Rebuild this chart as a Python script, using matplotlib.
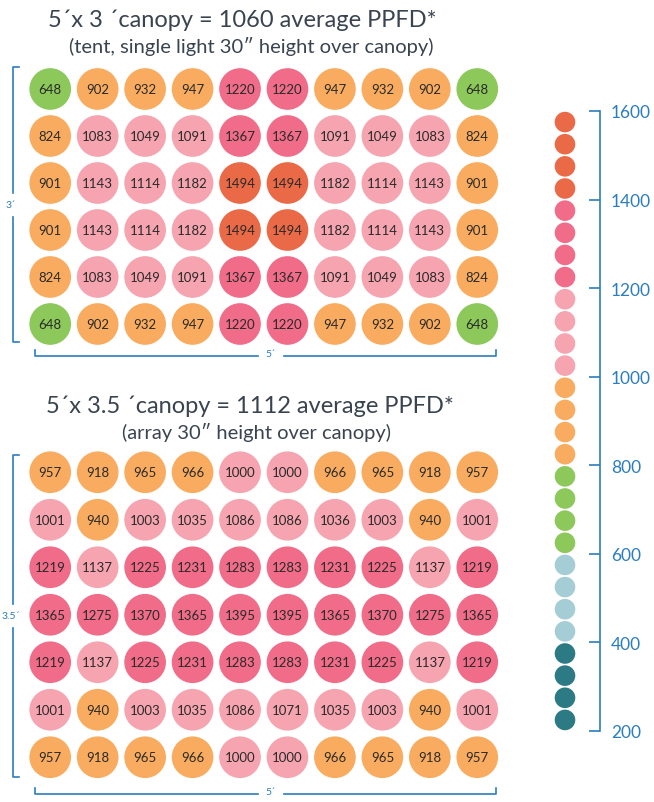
"""PPFD grid maps for two canopy layouts with a colour scale."""

import matplotlib

matplotlib.use("Agg")
import matplotlib.pyplot as plt
import numpy as np

plt.rcParams["font.family"] = ["Lato", "DejaVu Sans"]

# top map: 5' x 3' tent, single light
tent_ppfd = [
    [648, 902, 932, 947, 1220, 1220, 947, 932, 902, 648],
    [824, 1083, 1049, 1091, 1367, 1367, 1091, 1049, 1083, 824],
    [901, 1143, 1114, 1182, 1494, 1494, 1182, 1114, 1143, 901],
    [901, 1143, 1114, 1182, 1494, 1494, 1182, 1114, 1143, 901],
    [824, 1083, 1049, 1091, 1367, 1367, 1091, 1049, 1083, 824],
    [648, 902, 932, 947, 1220, 1220, 947, 932, 902, 648],
]

# bottom map: 5' x 3.5' array
array_ppfd = [
    [957, 918, 965, 966, 1000, 1000, 966, 965, 918, 957],
    [1001, 940, 1003, 1035, 1086, 1086, 1036, 1003, 940, 1001],
    [1219, 1137, 1225, 1231, 1283, 1283, 1231, 1225, 1137, 1219],
    [1365, 1275, 1370, 1365, 1395, 1395, 1365, 1370, 1275, 1365],
    [1219, 1137, 1225, 1231, 1283, 1283, 1231, 1225, 1137, 1219],
    [1001, 940, 1003, 1035, 1086, 1071, 1035, 1003, 940, 1001],
    [957, 918, 965, 966, 1000, 1000, 966, 965, 918, 957],
]

tent_title = "5\u00b4x 3 \u00b4canopy = 1060 average PPFD*"
tent_subtitle = "(tent, single light 30\u2033 height over canopy)"
array_title = "5\u00b4x 3.5 \u00b4canopy = 1112 average PPFD*"
array_subtitle = "(array 30\u2033 height over canopy)"

scale_edges = [200, 400, 600, 800, 1000, 1200, 1400, 1600]
scale_colors = ["#2b7a84", "#a4cdd6", "#8cc85a", "#f9ac5f", "#f6a4b0", "#f06c89", "#ea6a48"]
legend_values = list(range(225, 1600, 50))

BLUE = "#2c7dbf"
DARK = "#3a4350"
W, H = 654, 803


def color_for(value):
    idx = np.searchsorted(scale_edges, value, side="right") - 1
    return scale_colors[min(max(idx, 0), len(scale_colors) - 1)]


def fig_rect(x0, y0, x1, y1):
    return [x0 / W, 1 - y1 / H, (x1 - x0) / W, (y1 - y0) / H]


def draw_grid(ax, grid):
    data = np.array(grid)
    rows, cols = data.shape
    yy, xx = np.mgrid[0:rows, 0:cols]
    colors = [color_for(v) for v in data.ravel()]
    ax.scatter(xx.ravel(), yy.ravel(), s=900, c=colors, linewidths=0)
    for r in range(rows):
        for c in range(cols):
            ax.text(c, r, str(data[r, c]), ha="center", va="center",
                    fontsize=9.5, color="#2a2a2a")
    ax.set_xlim(-0.5, cols - 0.5)
    ax.set_ylim(rows - 0.5, -0.5)
    ax.axis("off")


fig = plt.figure(figsize=(W / 100, H / 100), dpi=100)

ax_top = fig.add_axes(fig_rect(26.5, 66.5, 501, 348.5))
draw_grid(ax_top, tent_ppfd)

ax_bot = fig.add_axes(fig_rect(26.5, 449.5, 501, 782))
draw_grid(ax_bot, array_ppfd)

# colour scale
ax_leg = fig.add_axes(fig_rect(545, 112, 600, 732))
ax_leg.scatter([20] * len(legend_values), legend_values, s=220,
               c=[color_for(v) for v in legend_values], linewidths=0, clip_on=False)
ax_leg.set_xlim(0, 55)
ax_leg.set_ylim(scale_edges[0], scale_edges[-1])
ax_leg.set_yticks(scale_edges)
ax_leg.yaxis.tick_right()
ax_leg.tick_params(axis="y", direction="in", length=8, width=1.2, color=BLUE,
                   labelcolor=BLUE, labelsize=12.5, pad=8)
ax_leg.set_xticks([])
for side in ["top", "bottom", "left"]:
    ax_leg.spines[side].set_visible(False)
ax_leg.spines["right"].set_color(BLUE)
ax_leg.spines["right"].set_linewidth(1.2)
ax_leg.patch.set_alpha(0)

# overlay for titles and dimension brackets
ov = fig.add_axes([0, 0, 1, 1], zorder=-1)
ov.set_xlim(0, W)
ov.set_ylim(H, 0)
ov.axis("off")

ov.text(242, 20, tent_title, ha="center", va="center", fontsize=17, color=DARK)
ov.text(251, 46, tent_subtitle, ha="center", va="center", fontsize=14.5, color=DARK)
ov.text(250, 406, array_title, ha="center", va="center", fontsize=17, color=DARK)
ov.text(257, 433, array_subtitle, ha="center", va="center", fontsize=14.5, color=DARK)


def v_bracket(x, y0, y1, label):
    mid = (y0 + y1) / 2
    kw = dict(color=BLUE, lw=1.2)
    ov.plot([x + 6, x, x], [y0, y0, mid - 12], **kw)
    ov.plot([x, x, x + 6], [mid + 12, y1, y1], **kw)
    ov.text(x - 2, mid, label, ha="center", va="center", fontsize=7.5, color=BLUE)


def h_bracket(y, x0, x1, label):
    mid = (x0 + x1) / 2 + 5
    kw = dict(color=BLUE, lw=1.2)
    ov.plot([x0, x0, mid - 13], [y - 6, y, y], **kw)
    ov.plot([mid + 13, x1, x1], [y, y, y - 6], **kw)
    ov.text(mid, y - 2, label, ha="center", va="center", fontsize=7.5, color=BLUE)


v_bracket(13, 68, 343, "3\u00b4")
h_bracket(357, 35, 496, "5\u00b4")
v_bracket(13, 456, 778, "3.5\u00b4")
h_bracket(795, 35, 496, "5\u00b4")

fig.savefig("out.png", dpi=100)
plt.close(fig)
